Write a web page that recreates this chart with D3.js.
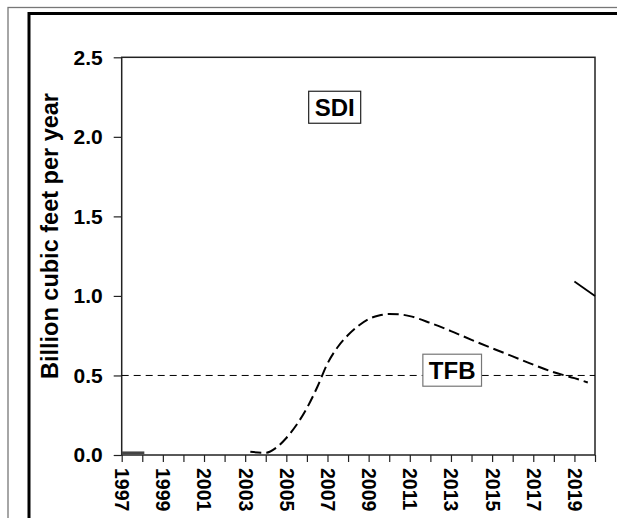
<!DOCTYPE html>
<html>
<head>
<meta charset="utf-8">
<script src="https://cdn.jsdelivr.net/npm/d3@7/dist/d3.min.js"></script>
<style>
  html, body { margin: 0; padding: 0; background: #fff; }
  svg { display: block; }
  text { font-family: "Liberation Sans", Arial, sans-serif; font-weight: bold; fill: #000; }
  .ylab { font-size: 21px; }
  .xlab { font-size: 19.5px; }
</style>
</head>
<body>
<svg id="chart" width="617" height="518"></svg>
<script>
// ---- data ----
const yearTicks = d3.range(1997, 2021);
const yearLabels = [1997, 1999, 2001, 2003, 2005, 2007, 2009, 2011, 2013, 2015, 2017, 2019];
const yTicks = [0, 0.5, 1.0, 1.5, 2.0, 2.5];

const sdiYears  = [2003.25, 2004, 2004.5, 2005, 2005.5, 2006, 2006.5, 2007, 2007.5, 2008, 2008.5, 2009, 2009.5, 2010, 2010.5, 2011, 2012, 2013, 2014, 2015, 2016, 2017, 2018, 2019, 2019.65];
const sdiValues = [0.02, 0.014, 0.045, 0.107, 0.19, 0.295, 0.426, 0.575, 0.679, 0.754, 0.812, 0.855, 0.877, 0.886, 0.884, 0.873, 0.83, 0.779, 0.724, 0.671, 0.62, 0.568, 0.52, 0.483, 0.456];

const earlyYears  = [1997, 1998.1];
const earlyValues = [0.013, 0.013];

const lateYears  = [2019.0, 2020.0];
const lateValues = [1.09, 1.0];

const tfbYears  = [1997, 2020];
const tfbValues = [0.5, 0.5];

const labels = [
  { text: "SDI", year: 2007.35, value: 2.186, stroke: "#222" },
  { text: "TFB", year: 2013.06, value: 0.533, stroke: "#777" }
];

// ---- layout ----
const svg = d3.select("#chart");
const x = d3.scaleLinear().domain([1997, 2020]).range([121.7, 595]);
const y = d3.scaleLinear().domain([0, 2.5]).range([455, 57.3]);

// outer frames
svg.append("rect").attr("x", 8).attr("y", 7.5).attr("width", 700).attr("height", 600)
  .attr("fill", "none").attr("stroke", "#777").attr("stroke-width", 1.3);
svg.append("rect").attr("x", 29).attr("y", 13.5).attr("width", 700).attr("height", 600)
  .attr("fill", "none").attr("stroke", "#000").attr("stroke-width", 3);

// axes
const yAxis = d3.axisLeft(y).tickValues(yTicks).tickFormat(d3.format(".1f")).tickSize(8).tickPadding(11);
const gy = svg.append("g").attr("transform", `translate(${x(1997)},0)`).call(yAxis);
gy.attr("font-family", null).attr("font-size", null);
gy.select(".domain").remove();
gy.selectAll(".tick line").attr("stroke", "#222").attr("stroke-width", 1.2);
gy.selectAll(".tick text").attr("class", "ylab");

const xAxis = d3.axisBottom(x).tickValues(yearTicks)
  .tickFormat(d => yearLabels.includes(d) ? String(d) : "").tickSize(7);
const gx = svg.append("g").attr("transform", `translate(0,${y(0)})`).call(xAxis);
gx.attr("font-family", null).attr("font-size", null);
gx.select(".domain").remove();
gx.selectAll(".tick line").attr("stroke", "#222").attr("stroke-width", 1.2);
gx.selectAll(".tick text")
  .attr("class", "xlab")
  .attr("transform", "rotate(90)")
  .attr("text-anchor", "start")
  .attr("x", 13).attr("y", 0).attr("dy", "0.36em");

// plot frame
svg.append("rect")
  .attr("x", x(1997)).attr("y", y(2.5))
  .attr("width", x(2020) - x(1997)).attr("height", y(0) - y(2.5))
  .attr("fill", "none").attr("stroke", "#222").attr("stroke-width", 1.5);

// y title
svg.append("text")
  .attr("transform", "rotate(-90)")
  .attr("x", -236).attr("y", 58)
  .attr("text-anchor", "middle")
  .style("font-size", "23.5px")
  .text("Billion cubic feet per year");

const line = d3.line().x(d => x(d[0])).y(d => y(d[1]));

// TFB reference line
svg.append("path").datum(d3.zip(tfbYears, tfbValues))
  .attr("d", line).attr("fill", "none").attr("stroke", "#000")
  .attr("stroke-width", 1).attr("stroke-dasharray", "7,5");

// early short segment
svg.append("path").datum(d3.zip(earlyYears, earlyValues))
  .attr("d", line).attr("fill", "none").attr("stroke", "#444").attr("stroke-width", 3);

// SDI dashed curve
svg.append("path").datum(d3.zip(sdiYears, sdiValues))
  .attr("d", d3.line().x(d => x(d[0])).y(d => y(d[1])).curve(d3.curveMonotoneX))
  .attr("fill", "none").attr("stroke", "#000")
  .attr("stroke-width", 2).attr("stroke-dasharray", "11,5");

// late solid segment
svg.append("path").datum(d3.zip(lateYears, lateValues))
  .attr("d", line).attr("fill", "none")
  .attr("stroke", "#000").attr("stroke-width", 1.8);

// labels in boxes
labels.forEach(l => {
  const g = svg.append("g");
  const rect = g.append("rect");
  const t = g.append("text")
    .attr("x", x(l.year)).attr("y", y(l.value))
    .attr("text-anchor", "middle").attr("dy", "0.36em")
    .style("font-size", "24px").text(l.text);
  const bb = t.node().getBBox();
  rect.attr("x", bb.x - 6).attr("y", y(l.value) - 16)
    .attr("width", bb.width + 12).attr("height", 32)
    .attr("fill", "#fff").attr("stroke", l.stroke).attr("stroke-width", 1.2);
});
</script>
</body>
</html>
